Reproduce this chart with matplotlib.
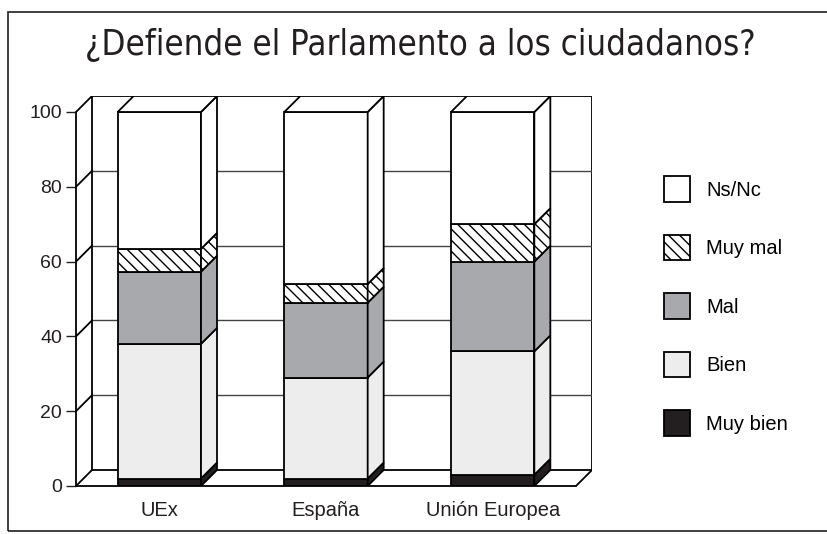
import matplotlib
matplotlib.use("Agg")
import matplotlib.pyplot as plt
from matplotlib.patches import Polygon, Rectangle, Patch
from matplotlib import font_manager

# ---------------- data ----------------
categories = ["UEx", "España", "Unión Europea"]
series_names = ["Muy bien", "Bien", "Mal", "Muy mal", "Ns/Nc"]
muy_bien = [2, 2, 3]
bien = [36, 27, 33]
mal = [19.3, 20, 24]
muy_mal = [6.1, 5, 10]
ns_nc = [36.6, 46, 30]
y_ticks = [0, 20, 40, 60, 80, 100]
title = "¿Defiende el Parlamento a los ciudadanos?"

# ---------------- styles ----------------
colors = {"Muy bien": "#231f20", "Bien": "#ededed", "Mal": "#a7a9ac",
          "Muy mal": "white", "Ns/Nc": "white"}
hatches = {"Muy mal": "\\" * 3}
series = {"Muy bien": muy_bien, "Bien": bien, "Mal": mal,
          "Muy mal": muy_mal, "Ns/Nc": ns_nc}

fonts = font_manager.fontManager.ttflist
avail = {f.name for f in fonts}
base_font = "Liberation Sans" if "Liberation Sans" in avail else "DejaVu Sans"
if "Liberation Sans Narrow" in avail:
    title_kw = dict(family=["Liberation Sans Narrow", "DejaVu Sans"], fontsize=25.6)
elif any(f.name == "DejaVu Sans" and "ondensed" in f.fname for f in fonts):
    title_kw = dict(family=["DejaVu Sans"], fontstretch="condensed", fontsize=24.9)
else:
    title_kw = dict(family=[base_font, "DejaVu Sans"], fontsize=24.7)
plt.rcParams["font.family"] = [base_font, "DejaVu Sans"]
plt.rcParams["hatch.linewidth"] = 1.0

W, H = 827, 534
fig = plt.figure(figsize=(W / 100, H / 100), dpi=100)

# axes: front-left-bottom at (76,486), back-right-top at (592,96)
ax = fig.add_axes([76 / W, (H - 486) / H, (592 - 76) / W, (486 - 96) / H])
DX = 16 * 3 / 500.0        # depth in x data units
DY = 16 / 3.74             # depth in y data units
x0, x1 = -0.5, len(categories) - 0.5
ax.set_xlim(x0, x1 + DX)
ax.set_ylim(0, 100 + DY)

lw = 1.3
# back wall
ax.add_patch(Rectangle((x0 + DX, DY), x1 - x0, 100, facecolor="white",
                       edgecolor="black", lw=lw, zorder=0))
# gridlines on back wall
ax.hlines([t + DY for t in y_ticks[1:-1]], x0 + DX, x1 + DX, color="#444444",
          lw=1.0, zorder=0.5)
# left wall diagonals
for t in y_ticks:
    ax.plot([x0, x0 + DX], [t, t + DY], color="black", lw=lw, zorder=1)
# floor front & right diagonal
ax.plot([x0, x1], [0, 0], color="black", lw=lw, zorder=1, clip_on=False)
ax.plot([x1, x1 + DX], [0, DY], color="black", lw=lw, zorder=1)

# bars
bw = 0.5
xs = list(range(len(categories)))
bottoms = [0.0] * len(categories)
for name in series_names:
    vals = series[name]
    h = hatches.get(name)
    ax.bar(xs, vals, bottom=bottoms, width=bw, color=colors[name],
           edgecolor="black", lw=lw, hatch=h, zorder=3)
    for i, (b, v) in enumerate(zip(bottoms, vals)):
        xr = i + bw / 2
        ax.add_patch(Polygon([(xr, b), (xr + DX, b + DY), (xr + DX, b + v + DY),
                              (xr, b + v)], closed=True, facecolor=colors[name],
                             edgecolor="black", lw=lw, hatch=h, zorder=3))
    bottoms = [b + v for b, v in zip(bottoms, vals)]
for i, T in enumerate(bottoms):
    xl, xr = i - bw / 2, i + bw / 2
    ax.add_patch(Polygon([(xl, T), (xl + DX, T + DY), (xr + DX, T + DY), (xr, T)],
                         closed=True, facecolor="white", edgecolor="black",
                         lw=lw, zorder=3))

# axes decoration
for s in ["top", "right", "bottom"]:
    ax.spines[s].set_visible(False)
ax.spines["left"].set_bounds(0, 100)
ax.spines["left"].set_linewidth(lw)
ax.set_yticks(y_ticks)
ax.tick_params(axis="y", length=7, width=1.0, pad=3, labelsize=14, colors="#231f20")
ax.set_xticks(xs)
ax.set_xticklabels(categories, fontsize=14.5, color="#231f20")
ax.tick_params(axis="x", length=0, pad=11)

# legend
handles = [Patch(facecolor=colors[n], edgecolor="black", lw=lw, hatch=hatches.get(n),
                 label=n) for n in series_names[::-1]]
fig.legend(handles=handles, loc="upper left", bbox_to_anchor=(664 / W, 1 - 176 / H),
           frameon=False, fontsize=14.5, handlelength=1.3, handleheight=1.6,
           handletextpad=0.8, labelspacing=1.62, borderpad=0, borderaxespad=0)

# title
fig.text(420 / W, 1 - 45 / H, title, ha="center", va="center",
         color="#231f20", **title_kw)

# outer frame
fig.add_artist(Rectangle((8 / W, 3 / H), 1.0, (531 - 12) / H, transform=fig.transFigure,
                         facecolor="none", edgecolor="#231f20", lw=1.2))

fig.savefig("out.png", dpi=100)
